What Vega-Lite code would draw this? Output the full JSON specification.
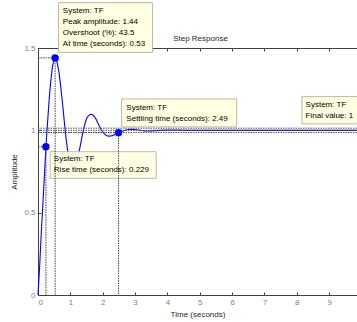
{
  "$schema": "https://vega.github.io/schema/vega-lite/v6.json",
  "width": 319,
  "height": 247,
  "autosize": {"type": "none"},
  "padding": {"left": 38, "top": 48, "right": 0, "bottom": 27},
  "background": "white",
  "config": {
    "view": {"stroke": null},
    "axis": {"grid": false, "domainColor": "#404040", "tickColor": "#404040", "labelColor": "#7f7f7f", "labelFont": "Liberation Sans", "labelFontSize": 8, "titleFont": "Liberation Sans", "titleFontSize": 8, "titleFontWeight": "normal", "titleColor": "#262626", "tickSize": -3, "labelPadding": 6}
  },
  "datasets": {
    "step": [
      {"t": 0, "amplitude": 0}, {"t": 0.05, "amplitude": 0.17}, {"t": 0.1, "amplitude": 0.37}, {"t": 0.15, "amplitude": 0.55},
      {"t": 0.2, "amplitude": 0.73}, {"t": 0.245, "amplitude": 0.9}, {"t": 0.3, "amplitude": 1.06}, {"t": 0.35, "amplitude": 1.2},
      {"t": 0.4, "amplitude": 1.31}, {"t": 0.45, "amplitude": 1.39}, {"t": 0.5, "amplitude": 1.432}, {"t": 0.53, "amplitude": 1.44},
      {"t": 0.56, "amplitude": 1.433}, {"t": 0.6, "amplitude": 1.405}, {"t": 0.65, "amplitude": 1.35}, {"t": 0.7, "amplitude": 1.27},
      {"t": 0.75, "amplitude": 1.18}, {"t": 0.8, "amplitude": 1.08}, {"t": 0.85, "amplitude": 0.98}, {"t": 0.9, "amplitude": 0.9},
      {"t": 0.95, "amplitude": 0.84}, {"t": 1.0, "amplitude": 0.8}, {"t": 1.05, "amplitude": 0.78}, {"t": 1.1, "amplitude": 0.775},
      {"t": 1.15, "amplitude": 0.785}, {"t": 1.2, "amplitude": 0.81}, {"t": 1.25, "amplitude": 0.85}, {"t": 1.3, "amplitude": 0.9},
      {"t": 1.35, "amplitude": 0.95}, {"t": 1.4, "amplitude": 1.0}, {"t": 1.45, "amplitude": 1.04}, {"t": 1.5, "amplitude": 1.07},
      {"t": 1.55, "amplitude": 1.087}, {"t": 1.6, "amplitude": 1.095}, {"t": 1.65, "amplitude": 1.097}, {"t": 1.7, "amplitude": 1.093},
      {"t": 1.75, "amplitude": 1.082}, {"t": 1.8, "amplitude": 1.065}, {"t": 1.85, "amplitude": 1.045}, {"t": 1.9, "amplitude": 1.025},
      {"t": 1.95, "amplitude": 1.005}, {"t": 2.0, "amplitude": 0.99}, {"t": 2.05, "amplitude": 0.978}, {"t": 2.1, "amplitude": 0.97},
      {"t": 2.15, "amplitude": 0.966}, {"t": 2.2, "amplitude": 0.965}, {"t": 2.25, "amplitude": 0.966}, {"t": 2.3, "amplitude": 0.968},
      {"t": 2.35, "amplitude": 0.972}, {"t": 2.4, "amplitude": 0.976}, {"t": 2.45, "amplitude": 0.981}, {"t": 2.49, "amplitude": 0.986},
      {"t": 2.55, "amplitude": 0.991}, {"t": 2.6, "amplitude": 0.995}, {"t": 2.7, "amplitude": 1.001}, {"t": 2.8, "amplitude": 1.005},
      {"t": 2.9, "amplitude": 1.006}, {"t": 3.0, "amplitude": 1.005}, {"t": 3.1, "amplitude": 1.002}, {"t": 3.2, "amplitude": 0.999},
      {"t": 3.3, "amplitude": 0.997}, {"t": 3.4, "amplitude": 0.996}, {"t": 3.5, "amplitude": 0.997}, {"t": 3.6, "amplitude": 0.998},
      {"t": 3.8, "amplitude": 1.0}, {"t": 4.0, "amplitude": 1.001}, {"t": 4.3, "amplitude": 1.001}, {"t": 4.6, "amplitude": 1.0},
      {"t": 5, "amplitude": 1.0}, {"t": 6, "amplitude": 1.0}, {"t": 7, "amplitude": 1.0}, {"t": 8, "amplitude": 1.0},
      {"t": 9, "amplitude": 1.0}, {"t": 9.86, "amplitude": 1.0}
    ],
    "chars": [
      {"name": "Rise", "t": 0.245, "y": 0.9, "base": 0},
      {"name": "Peak", "t": 0.53, "y": 1.44, "base": 0},
      {"name": "Settling", "t": 2.49, "y": 0.986, "base": 0}
    ],
    "levels": [
      {"kind": "band", "level": 1.013},
      {"kind": "final", "level": 1.0},
      {"kind": "band", "level": 0.987}
    ],
    "tips": [
      {"name": "Peak", "t": 0.53, "y": 1.44, "label": "System: TF\nPeak amplitude: 1.44\nOvershoot (%): 43.5\nAt time (seconds): 0.53"},
      {"name": "Settling", "t": 2.49, "y": 0.986, "label": "System: TF\nSettling time (seconds): 2.49"},
      {"name": "Rise", "t": 0.245, "y": 0.9, "label": "System: TF\nRise time (seconds): 0.229"},
      {"name": "Final", "t": 8.2, "y": 1.0, "label": "System: TF\nFinal value: 1"}
    ]
  },
  "resolve": {"axis": {"x": "independent"}},
  "layer": [
    {
      "data": {"name": "step"},
      "mark": {"type": "line", "color": "#0000ff", "strokeWidth": 1.1},
      "encoding": {
        "x": {"field": "t", "type": "quantitative", "scale": {"domain": [0, 9.86], "nice": false}, "axis": {"title": "Time (seconds)", "values": [0, 1, 2, 3, 4, 5, 6, 7, 8, 9], "format": "d", "titlePadding": 4}},
        "y": {"field": "amplitude", "type": "quantitative", "scale": {"domain": [0, 1.5], "nice": false}, "axis": {"title": "Amplitude", "values": [0, 0.5, 1, 1.5], "format": "~g", "titlePadding": 5}}
      }
    },
    {
      "data": {"name": "levels"},
      "mark": {"type": "rule", "color": "#555555", "strokeDash": [1.5, 1], "strokeWidth": 1},
      "encoding": {
        "y": {"field": "level", "type": "quantitative"}
      }
    },
    {
      "data": {"name": "tips"},
      "transform": [{"filter": "datum.name === 'Peak'"}],
      "mark": {"type": "rect", "fill": "#ffffe1", "stroke": "#b8b8a4", "strokeWidth": 1, "xOffset": 3.4, "x2Offset": 97.4, "yOffset": -55.2, "y2Offset": -5.5},
      "encoding": {"x": {"field": "t", "type": "quantitative", "axis": null}, "x2": {"field": "t"}, "y": {"field": "y", "type": "quantitative"}, "y2": {"field": "y"}}
    },
    {
      "data": {"name": "tips"},
      "transform": [{"filter": "datum.name === 'Settling'"}],
      "mark": {"type": "rect", "fill": "#ffffe1", "stroke": "#b8b8a4", "strokeWidth": 1, "xOffset": 3.1, "x2Offset": 118.1, "yOffset": -33.7, "y2Offset": -5.7},
      "encoding": {"x": {"field": "t", "type": "quantitative", "axis": null}, "x2": {"field": "t"}, "y": {"field": "y", "type": "quantitative"}, "y2": {"field": "y"}}
    },
    {
      "data": {"name": "tips"},
      "transform": [{"filter": "datum.name === 'Rise'"}],
      "mark": {"type": "rect", "fill": "#ffffe1", "stroke": "#b8b8a4", "strokeWidth": 1, "opacity": 0.92, "xOffset": 4.3, "x2Offset": 110.3, "yOffset": 4.9, "y2Offset": 31.5},
      "encoding": {"x": {"field": "t", "type": "quantitative", "axis": null}, "x2": {"field": "t"}, "y": {"field": "y", "type": "quantitative"}, "y2": {"field": "y"}}
    },
    {
      "data": {"name": "tips"},
      "transform": [{"filter": "datum.name === 'Final'"}],
      "mark": {"type": "rect", "fill": "#ffffe1", "stroke": "#b8b8a4", "strokeWidth": 1, "xOffset": -1.4, "x2Offset": 58.6, "yOffset": -33.7, "y2Offset": -6.4},
      "encoding": {"x": {"field": "t", "type": "quantitative", "axis": null}, "x2": {"field": "t"}, "y": {"field": "y", "type": "quantitative"}, "y2": {"field": "y"}}
    },
    {
      "data": {"name": "chars"},
      "mark": {"type": "rule", "color": "#404040", "strokeDash": [1.5, 1], "strokeWidth": 1},
      "encoding": {
        "x": {"field": "t", "type": "quantitative", "axis": {"orient": "top", "labels": false, "title": "Step Response", "titlePadding": 5, "titleX": 162, "values": [0, 1, 2, 3, 4, 5, 6, 7, 8, 9]}},
        "y": {"field": "y", "type": "quantitative"},
        "y2": {"field": "base"}
      }
    },
    {
      "data": {"name": "chars"},
      "mark": {"type": "rule", "color": "#404040", "strokeDash": [1.5, 1], "strokeWidth": 1},
      "encoding": {"x": {"field": "base", "type": "quantitative", "axis": null}, "x2": {"field": "t"}, "y": {"field": "y", "type": "quantitative"}}
    },
    {
      "data": {"name": "chars"},
      "mark": {"type": "point", "filled": true, "color": "#0000ff", "size": 55, "opacity": 1},
      "encoding": {"x": {"field": "t", "type": "quantitative", "axis": null}, "y": {"field": "y", "type": "quantitative"}}
    },
    {
      "data": {"name": "tips"},
      "transform": [{"filter": "datum.name === 'Peak'"}],
      "mark": {"type": "text", "align": "left", "baseline": "top", "font": "Liberation Sans", "fontSize": 8, "color": "#000000", "lineBreak": "\n", "lineHeight": 10.7, "dx": 7.7, "dy": -50.4},
      "encoding": {"x": {"field": "t", "type": "quantitative", "axis": null}, "y": {"field": "y", "type": "quantitative"}, "text": {"field": "label", "type": "nominal"}}
    },
    {
      "data": {"name": "tips"},
      "transform": [{"filter": "datum.name === 'Settling'"}],
      "mark": {"type": "text", "align": "left", "baseline": "top", "font": "Liberation Sans", "fontSize": 8, "color": "#000000", "lineBreak": "\n", "lineHeight": 11.5, "dx": 7.8, "dy": -28.9},
      "encoding": {"x": {"field": "t", "type": "quantitative", "axis": null}, "y": {"field": "y", "type": "quantitative"}, "text": {"field": "label", "type": "nominal"}}
    },
    {
      "data": {"name": "tips"},
      "transform": [{"filter": "datum.name === 'Rise'"}],
      "mark": {"type": "text", "align": "left", "baseline": "top", "font": "Liberation Sans", "fontSize": 8, "color": "#000000", "lineBreak": "\n", "lineHeight": 11, "dx": 7.9, "dy": 7.7},
      "encoding": {"x": {"field": "t", "type": "quantitative", "axis": null}, "y": {"field": "y", "type": "quantitative"}, "text": {"field": "label", "type": "nominal"}}
    },
    {
      "data": {"name": "tips"},
      "transform": [{"filter": "datum.name === 'Final'"}],
      "mark": {"type": "text", "align": "left", "baseline": "top", "font": "Liberation Sans", "fontSize": 8, "color": "#000000", "lineBreak": "\n", "lineHeight": 10.7, "dx": 2.3, "dy": -28.9},
      "encoding": {"x": {"field": "t", "type": "quantitative", "axis": null}, "y": {"field": "y", "type": "quantitative"}, "text": {"field": "label", "type": "nominal"}}
    }
  ]
}
